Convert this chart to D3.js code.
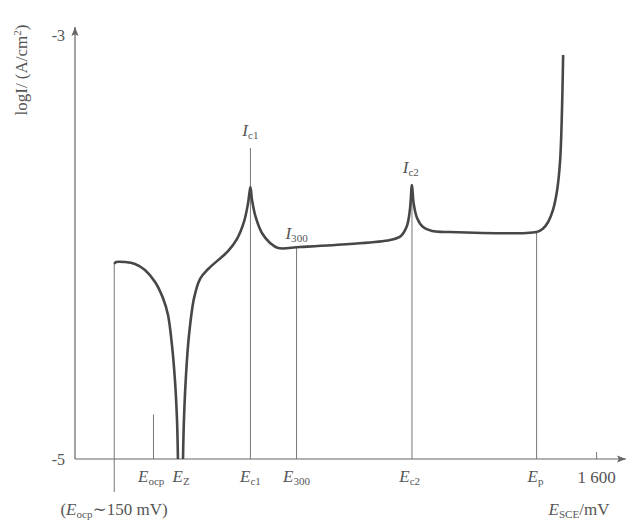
<!DOCTYPE html>
<html>
<head>
<meta charset="utf-8">
<script src="https://cdn.jsdelivr.net/npm/d3@7"></script>
<style>
  body { margin: 0; background: #fff; }
  svg text { font-family: "Liberation Serif", "DejaVu Serif", serif; fill: #555; }
</style>
</head>
<body>
<svg id="chart" width="627" height="521"></svg>
<script>
// Potencial E (mV) y logI
const curveLeft = [
  [-490, -4.08], [-482, -4.071], [-443, -4.071], [-400, -4.08], [-357, -4.108],
  [-313, -4.165], [-279, -4.241], [-257, -4.321], [-240, -4.462], [-227, -4.627],
  [-218, -4.816], [-214, -5.0]
];
const curveRight = [
  [-192, -5.0], [-188, -4.816], [-179, -4.604], [-166, -4.415], [-144, -4.24],
  [-118, -4.15], [-84, -4.105], [-40, -4.062], [3, -4.02], [42, -3.962],
  [72, -3.882], [90, -3.792], [100, -3.717], [107, -3.778], [124, -3.863],
  [150, -3.934], [185, -3.981], [220, -4.005], [315, -4.0], [530, -3.986],
  [705, -3.967], [752, -3.948], [778, -3.901], [791, -3.825], [800, -3.708],
  [807, -3.792], [822, -3.863], [848, -3.906], [887, -3.925], [943, -3.929],
  [1340, -3.929], [1366, -3.915], [1390, -3.882], [1411, -3.825], [1429, -3.731],
  [1442, -3.59], [1450, -3.354], [1455, -3.094]
];

// Lineas verticales de referencia [E, logI inferior, logI superior]
const guideLines = [
  [-490, -5.156, -4.08],
  [-320, -5.0, -4.79],
  [100, -5.0, -3.533],
  [300, -5.0, -4.0],
  [800, -5.0, -3.708],
  [1340, -5.0, -3.929],
  [1600, -5.0, -4.967]
];

// Etiquetas del eje x: [E, simbolo, subindice]
const xTickLabels = [
  [-330, "E", "ocp"],
  [-200, "E", "Z"],
  [100, "E", "c1"],
  [300, "E", "300"],
  [790, "E", "c2"],
  [1335, "E", "p"]
];
const yTickValues = [-5, -3];

// Etiquetas de corriente: [E, logI, simbolo, subindice]
const peakLabels = [
  [100, -3.475, "I", "c1"],
  [795, -3.65, "I", "c2"],
  [300, -3.96, "I", "300"]
];

const svg = d3.select("#chart");

const x = d3.scaleLinear().domain([-660, 1710]).range([75, 622]);
const y = d3.scaleLinear().domain([-5, -3]).range([459, 35]);

// Flechas
const defs = svg.append("defs");
defs.append("marker")
  .attr("id", "arrow")
  .attr("viewBox", "0 0 10 10")
  .attr("refX", 10).attr("refY", 5)
  .attr("markerWidth", 9).attr("markerHeight", 9)
  .attr("markerUnits", "userSpaceOnUse")
  .attr("orient", "auto")
  .append("path")
  .attr("d", "M0,1 L10,5 L0,9 L2,5 Z")
  .attr("fill", "#666");

// Ejes
svg.append("line")
  .attr("x1", x(-660)).attr("y1", y(-5))
  .attr("x2", 626).attr("y2", y(-5))
  .attr("stroke", "#666").attr("stroke-width", 1.2)
  .attr("marker-end", "url(#arrow)");
svg.append("line")
  .attr("x1", x(-660)).attr("y1", y(-5))
  .attr("x2", x(-660)).attr("y2", 27)
  .attr("stroke", "#666").attr("stroke-width", 1.2)
  .attr("marker-end", "url(#arrow)");

svg.selectAll(".ytick")
  .data(yTickValues)
  .join("text")
  .attr("class", "ytick")
  .attr("x", 65).attr("y", d => y(d) + 6)
  .attr("text-anchor", "end")
  .style("font-size", "16px")
  .text(d => d < 0 ? "-" + Math.abs(d) : d);

// Lineas guia
svg.selectAll(".guide")
  .data(guideLines)
  .join("line")
  .attr("class", "guide")
  .attr("x1", d => x(d[0])).attr("x2", d => x(d[0]))
  .attr("y1", d => y(d[1])).attr("y2", d => y(d[2]))
  .attr("stroke", "#777").attr("stroke-width", 1);

// Curva de polarizacion
const line = d3.line()
  .x(d => x(d[0]))
  .y(d => y(d[1]))
  .curve(d3.curveCatmullRom.alpha(0.5));

[curveLeft, curveRight].forEach(seg => {
  svg.append("path")
    .datum(seg)
    .attr("fill", "none")
    .attr("stroke", "#474747")
    .attr("stroke-width", 2.6)
    .attr("stroke-linejoin", "round")
    .attr("d", line);
});

// Texto con subindice
function subText(sel, sym, sub, size) {
  sel.append("tspan").style("font-style", "italic").style("font-size", size + "px").text(sym);
  sel.append("tspan").attr("dy", 3).style("font-size", (size * 0.65) + "px").text(sub);
}

xTickLabels.forEach(d => {
  const t = svg.append("text")
    .attr("x", x(d[0])).attr("y", 482)
    .attr("text-anchor", "middle");
  subText(t, d[1], d[2], 17);
});

peakLabels.forEach(d => {
  const t = svg.append("text")
    .attr("x", x(d[0])).attr("y", y(d[1]))
    .attr("text-anchor", "middle");
  subText(t, d[2], d[3], 17);
});

svg.append("text")
  .attr("x", x(1600)).attr("y", 483)
  .attr("text-anchor", "middle")
  .style("font-size", "17px")
  .text("1 600");

// Titulo eje x
const xt = svg.append("text").attr("x", 579).attr("y", 515).attr("text-anchor", "middle");
subText(xt, "E", "SCE", 17);
xt.append("tspan").attr("dy", -3).style("font-size", "17px").text("/mV");

// Nota del potencial
const note = svg.append("text").attr("x", 114).attr("y", 515).attr("text-anchor", "middle");
note.append("tspan").style("font-size", "17px").text("(");
subText(note, "E", "ocp", 17);
note.append("tspan").attr("dy", -3).style("font-size", "17px").text("∼150 mV)");

// Titulo eje y
svg.append("text")
  .attr("transform", "translate(27,70) rotate(-90)")
  .attr("text-anchor", "middle")
  .style("font-size", "17px")
  .html("logI/ (A/cm<tspan dy='-6' style='font-size:11px'>2</tspan><tspan dy='6'>)</tspan>");
</script>
</body>
</html>
